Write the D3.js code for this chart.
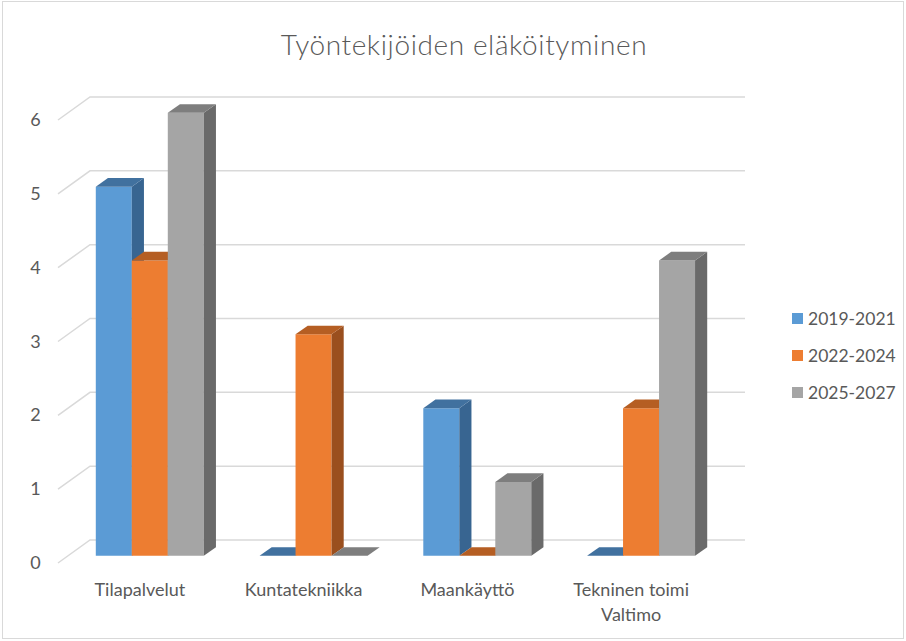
<!DOCTYPE html>
<html>
<head>
<meta charset="utf-8">
<script src="https://cdn.jsdelivr.net/npm/d3@7"></script>
<style>
  body { margin: 0; background: #fff; }
  svg text { font-family: Lato, "Open Sans", sans-serif; fill: #595959; }
</style>
</head>
<body>
<svg id="chart" width="906" height="641"></svg>
<script>
const title = "Työntekijöiden eläköityminen"
const categories = ["Tilapalvelut", "Kuntatekniikka", "Maankäyttö", "Tekninen toimi Valtimo"]
const categoryLines = [["Tilapalvelut"], ["Kuntatekniikka"], ["Maankäyttö"], ["Tekninen toimi", "Valtimo"]]
const seriesNames = ["2019-2021", "2022-2024", "2025-2027"]
const values2019 = [5, 0, 2, 0]
const values2022 = [4, 3, 0, 2]
const values2025 = [6, 0, 1, 4]
const yTicks = [0, 1, 2, 3, 4, 5, 6]

const seriesValues = [values2019, values2022, values2025]

// front, top, side colours for each series
const colors = [
    {front: "#5b9bd5", top: "#41719f", side: "#386591"},
    {front: "#ed7d31", top: "#b55e23", side: "#9a4f1e"},
    {front: "#a5a5a5", top: "#7e7e7e", side: "#6a6a6a"}
]

const svg = d3.select("#chart")

svg.append("rect")
    .attr("x", 2.5).attr("y", 1.5)
    .attr("width", 901).attr("height", 637)
    .attr("fill", "#fff")
    .attr("stroke", "#d9d9d9")

// oblique projection, depth z in [0,1]
const DX = 32, DY = 23
const y = d3.scaleLinear().domain([0, 6]).range([563, 120])
const x = d3.scaleBand().domain(categories).range([58, 713])
const groupWidth = 108
const xs = d3.scaleBand().domain(seriesNames).range([0, groupWidth])
const z0 = 0.31, z1 = 0.69

const proj = (xf, v, z) => [xf + z * DX, y(v) - z * DY]
const poly = pts => "M" + pts.map(p => p.join(",")).join("L") + "Z"

// gridlines on the back wall, with the left diagonal
svg.append("g").selectAll("path")
    .data(yTicks)
    .enter()
        .append("path")
        .attr("d", d => {
            const f = proj(x.range()[0], d, 0), b = proj(x.range()[0], d, 1), e = proj(x.range()[1], d, 1)
            return `M${f}L${b}L${e}`
        })
        .attr("fill", "none")
        .attr("stroke", "#d9d9d9")
        .attr("stroke-width", 1.5)

// y labels
svg.append("g").selectAll("text")
    .data(yTicks)
    .enter()
        .append("text")
        .attr("x", 35.5)
        .attr("y", d => y(d) + 6)
        .attr("text-anchor", "middle")
        .style("font-size", "18px")
        .text(d => d)

// bars
const bars = []
categories.forEach((c, ci) => {
    seriesNames.forEach((s, si) => {
        bars.push({cat: c, series: s, si: si, value: seriesValues[si][ci]})
    })
})

const barG = svg.append("g").selectAll("g")
    .data(bars)
    .enter()
        .append("g")

barG.each(function(d) {
    const g = d3.select(this)
    const x0 = x(d.cat) + x.bandwidth() / 2 - groupWidth / 2 + xs(d.series)
    const x1 = x0 + xs.bandwidth()
    const v = d.value
    const col = colors[d.si]
    if (v > 0) {
        g.append("path")
            .attr("d", poly([proj(x0, 0, z0), proj(x1, 0, z0), proj(x1, v, z0), proj(x0, v, z0)]))
            .attr("fill", col.front)
        g.append("path")
            .attr("d", poly([proj(x1, 0, z0), proj(x1, v, z0), proj(x1, v, z1), proj(x1, 0, z1)]))
            .attr("fill", col.side)
    }
    g.append("path")
        .attr("d", poly([proj(x0, v, z0), proj(x1, v, z0), proj(x1, v, z1), proj(x0, v, z1)]))
        .attr("fill", col.top)
})

// category labels
const catG = svg.append("g").selectAll("text")
    .data(categories)
    .enter()
        .append("text")
        .attr("text-anchor", "middle")
        .attr("transform", d => `translate(${x(d) + x.bandwidth() / 2},596)`)
        .style("font-size", "18px")

catG.selectAll("tspan")
    .data((d, i) => categoryLines[i])
    .enter()
        .append("tspan")
        .attr("x", 0)
        .attr("dy", (d, i) => i ? 25 : 0)
        .text(d => d)

// legend
const legend = svg.append("g").selectAll("g")
    .data(seriesNames)
    .enter()
        .append("g")
        .attr("transform", (d, i) => `translate(792,${318 + i * 37})`)

legend.append("rect")
    .attr("x", 0).attr("y", -5)
    .attr("width", 11).attr("height", 11)
    .attr("fill", (d, i) => colors[i].front)

legend.append("text")
    .attr("x", 16)
    .attr("y", 6.5)
    .style("font-size", "17.5px")
    .text(d => d)

// title
svg.append("text")
    .attr("x", 464)
    .attr("y", 55)
    .attr("text-anchor", "middle")
    .style("font-size", "28px")
    .style("font-weight", 300)
    .style("letter-spacing", "0.6px")
    .text(title)
</script>
</body>
</html>
